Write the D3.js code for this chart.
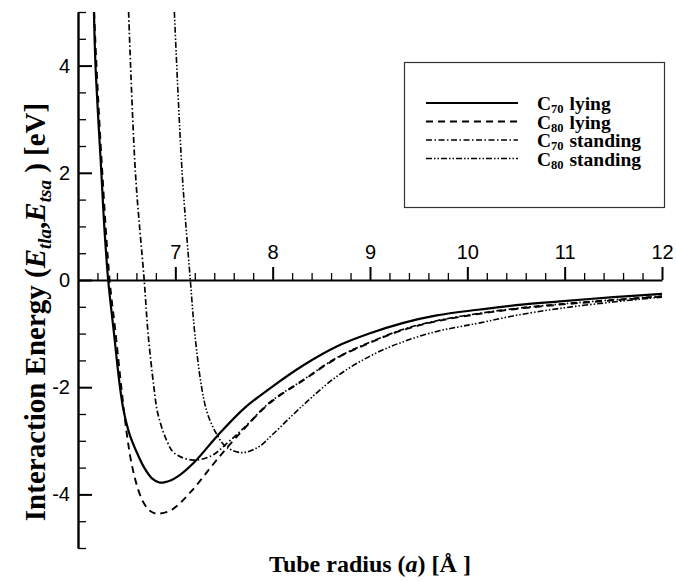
<!DOCTYPE html>
<html>
<head>
<meta charset="utf-8">
<script src="https://cdn.jsdelivr.net/npm/d3@7"></script>
<style>
  html, body { margin: 0; padding: 0; background: #fff; }
  svg { display: block; }
</style>
</head>
<body>
<svg id="chart" width="676" height="581"></svg>
<script>
// ---------------- data ----------------
const xTicks = [7, 8, 9, 10, 11, 12];
const yTicks = [-4, -2, 0, 2, 4];

const c70LyingX = [6.164, 6.18, 6.24, 6.27, 6.31, 6.37, 6.43, 6.47, 6.53, 6.60, 6.68, 6.76, 6.84, 6.95, 7.03, 7.20, 7.44, 7.71, 7.973, 8.316, 8.658, 9.0, 9.343, 9.685, 10.13, 10.5, 10.95, 11.5, 12.0];
const c70LyingY = [5, 4, 2, 1, 0, -1, -1.98, -2.45, -2.88, -3.20, -3.50, -3.70, -3.78, -3.74, -3.66, -3.39, -2.89, -2.39, -2.02, -1.59, -1.24, -0.995, -0.80, -0.66, -0.55, -0.47, -0.40, -0.32, -0.26];

const c80LyingX = [6.166, 6.19, 6.25, 6.325, 6.387, 6.445, 6.50, 6.55, 6.62, 6.685, 6.75, 6.815, 6.96, 7.16, 7.37, 7.54, 7.71, 7.973, 8.316, 8.658, 9.0, 9.343, 9.685, 10.13, 10.5, 10.95, 11.5, 12.0];
const c80LyingY = [5, 4, 2, 0, -1, -2, -2.85, -3.42, -3.92, -4.19, -4.32, -4.36, -4.29, -3.95, -3.48, -3.11, -2.77, -2.29, -1.87, -1.46, -1.17, -0.93, -0.77, -0.63, -0.54, -0.46, -0.38, -0.31];

const c70StandingX = [6.52, 6.59, 6.68, 6.72, 6.78, 6.82, 6.91, 6.99, 7.18, 7.37, 7.54, 7.71, 7.973, 8.316, 8.658, 9.0, 9.343, 9.685, 10.13, 10.5, 10.95, 11.5, 12.0];
const c70StandingY = [5, 2, 0, -1, -2, -2.49, -2.99, -3.23, -3.36, -3.28, -3.03, -2.75, -2.28, -1.86, -1.45, -1.16, -0.92, -0.76, -0.62, -0.53, -0.45, -0.37, -0.30];

const c80StandingX = [6.99, 7.07, 7.154, 7.20, 7.27, 7.33, 7.42, 7.52, 7.68, 7.85, 8.0, 8.316, 8.658, 9.0, 9.343, 9.685, 9.925, 10.13, 10.5, 10.95, 11.5, 12.0];
const c80StandingY = [5, 2, 0, -1, -2, -2.49, -2.86, -3.11, -3.22, -3.12, -2.88, -2.33, -1.80, -1.42, -1.15, -0.96, -0.87, -0.80, -0.66, -0.53, -0.41, -0.32];

const seriesSub = ["70", "80", "70", "80"];
const seriesWord = ["lying", "lying", "standing", "standing"];

// ---------------- drawing ----------------
const svg = d3.select("#chart");
const x = d3.scaleLinear().domain([6, 12]).range([78, 662]);
const y = d3.scaleLinear().domain([-5, 5]).range([548, 12]);

const styles = [
  { dash: null, width: 2.2 },
  { dash: "7,5", width: 1.9 },
  { dash: "6,2.5,1.5,2.5", width: 1.7 },
  { dash: "6,2,1.5,2,1.5,2", width: 1.6 }
];

const series = [
  d3.zip(c70LyingX, c70LyingY),
  d3.zip(c80LyingX, c80LyingY),
  d3.zip(c70StandingX, c70StandingY),
  d3.zip(c80StandingX, c80StandingY)
];

svg.append("defs").append("clipPath").attr("id", "plotclip")
  .append("rect").attr("x", 78).attr("y", 12).attr("width", 584).attr("height", 536);

const line = d3.line()
  .x(d => x(d[0]))
  .y(d => y(d[1]))
  .curve(d3.curveCatmullRom.alpha(0.5));

const plot = svg.append("g").attr("clip-path", "url(#plotclip)");
series.forEach((s, i) => {
  plot.append("path")
    .datum(s)
    .attr("d", line)
    .attr("fill", "none")
    .attr("stroke", "#000")
    .attr("stroke-width", styles[i].width)
    .attr("stroke-dasharray", styles[i].dash);
});

// x axis (at y = 0), ticks pointing up, labels above
const xMinor = d3.range(6.2, 12.001, 0.2).filter(v => Math.abs(v - Math.round(v)) > 1e-6);
const gxMinor = svg.append("g").attr("transform", `translate(0,${y(0)})`)
  .call(d3.axisTop(x).tickValues(xMinor).tickSize(7).tickFormat(""));
gxMinor.select(".domain").remove();
const gx = svg.append("g").attr("transform", `translate(0,${y(0)})`)
  .call(d3.axisTop(x).tickValues(xTicks).tickSizeInner(13).tickSizeOuter(0).tickPadding(8)
        .tickFormat(d => String(d)));
gx.select(".domain").attr("stroke-width", 2.2);
gx.selectAll(".tick line").attr("stroke-width", 2);
gxMinor.selectAll(".tick line").attr("stroke-width", 1.3);
gx.selectAll("text").attr("font-family", "'Liberation Sans', Arial, sans-serif").attr("font-size", 20).attr("fill", "#000");

// y axis on left, ticks pointing right, labels left
const yMinor = d3.range(-5, 5.001, 0.5).filter(v => Math.abs(v / 2 - Math.round(v / 2)) > 1e-6);
const gyMinor = svg.append("g").attr("transform", `translate(${x(6)},0)`)
  .call(d3.axisLeft(y).tickValues(yMinor).tickSize(-8).tickFormat(""));
gyMinor.select(".domain").remove();
gyMinor.selectAll(".tick line").attr("stroke-width", 1.3);
const gy = svg.append("g").attr("transform", `translate(${x(6)},0)`)
  .call(d3.axisLeft(y).tickValues(yTicks).tickSizeInner(-14).tickSizeOuter(0).tickPadding(8)
        .tickFormat(d => String(d)));
gy.select(".domain").attr("stroke-width", 2.4);
gy.selectAll(".tick line").attr("stroke-width", 2);
gy.selectAll("text").attr("font-family", "'Liberation Sans', Arial, sans-serif").attr("font-size", 20).attr("fill", "#000");

// axis titles
const serif = "'Liberation Serif', 'Times New Roman', serif";
const xt = svg.append("text")
  .attr("x", 370).attr("y", 572)
  .attr("text-anchor", "middle")
  .attr("font-family", serif).attr("font-weight", "bold").attr("font-size", 24);
xt.append("tspan").text("Tube radius (");
xt.append("tspan").attr("font-style", "italic").text("a");
xt.append("tspan").text(") [Å ]");

const yt = svg.append("text")
  .attr("transform", "translate(45,312) rotate(-90)")
  .attr("text-anchor", "middle")
  .attr("font-family", serif).attr("font-weight", "bold").attr("font-size", 29);
yt.append("tspan").text("Interaction Energy (");
yt.append("tspan").attr("font-style", "italic").text("E");
yt.append("tspan").attr("font-style", "italic").attr("font-size", 19).attr("dy", 6).text("tla");
yt.append("tspan").attr("dy", -6).text(",");
yt.append("tspan").attr("font-style", "italic").text("E");
yt.append("tspan").attr("font-style", "italic").attr("font-size", 19).attr("dy", 6).text("tsa");
yt.append("tspan").attr("dy", -6).text(" ) [eV]");

// legend
const lg = svg.append("g");
lg.append("rect").attr("x", 404.5).attr("y", 62.5).attr("width", 260).attr("height", 145)
  .attr("fill", "#fff").attr("stroke", "#333").attr("stroke-width", 1.2);
const rowY = [103, 121.5, 140, 158.5];
seriesWord.forEach((w, i) => {
  lg.append("line").attr("x1", 426).attr("x2", 518).attr("y1", rowY[i]).attr("y2", rowY[i])
    .attr("stroke", "#000").attr("stroke-width", styles[i].width)
    .attr("stroke-dasharray", styles[i].dash);
  const t = lg.append("text").attr("x", 537).attr("y", rowY[i] + 7)
    .attr("font-family", serif).attr("font-weight", "bold").attr("font-size", 19.5);
  t.append("tspan").text("C");
  t.append("tspan").attr("font-size", 12.5).attr("dy", 3).text(seriesSub[i]);
  t.append("tspan").attr("dy", -3).attr("dx", 1).text(" " + w);
});
</script>
</body>
</html>
